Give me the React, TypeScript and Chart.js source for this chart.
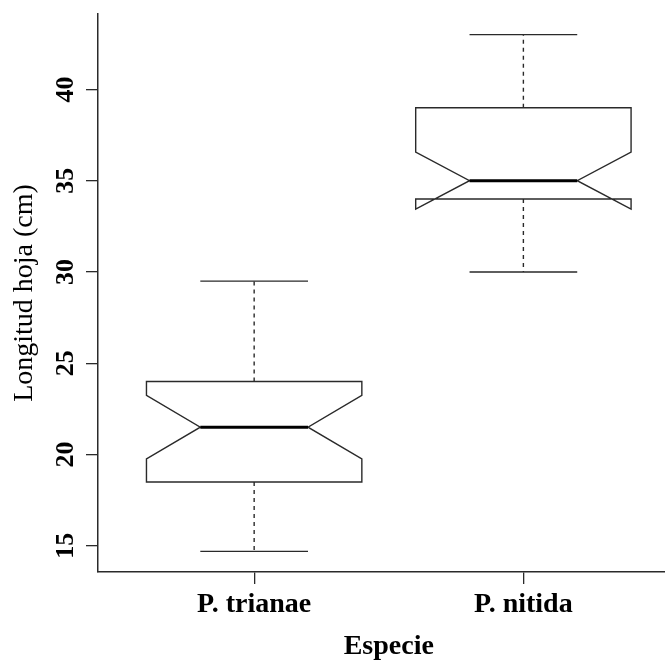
import React, { useEffect, useRef } from "react";
import { Chart, registerables } from "chart.js";

Chart.register(...registerables);

// ---- data ----
const categories = ["P. trianae", "P. nitida"];
const whiskerLow = [14.7, 30];
const q1 = [18.5, 34];
const median = [21.5, 35];
const q3 = [24, 39];
const whiskerHigh = [29.5, 43];
const notchLow = [19.76, 33.45];
const notchHigh = [23.24, 36.57];
const yTicks = [15, 20, 25, 30, 35, 40];
const yTitle = "Longitud hoja (cm)";
const xTitle = "Especie";

const FONT = '"Liberation Serif", "Times New Roman", "DejaVu Serif", serif';
const LINE = "#2a2a2a";

const boxPlugin = {
  id: "notchedBoxes",
  afterDatasetsDraw(chart: any) {
    const { ctx } = chart;
    const x = chart.scales.x;
    const y = chart.scales.y;
    const boxHalf = 0.4;
    const capHalf = 0.2;
    categories.forEach((_, i) => {
      const c = i + 1;
      const xc = x.getPixelForValue(c);
      const xl = x.getPixelForValue(c - boxHalf);
      const xr = x.getPixelForValue(c + boxHalf);
      const xnl = x.getPixelForValue(c - boxHalf / 2);
      const xnr = x.getPixelForValue(c + boxHalf / 2);
      const xcl = x.getPixelForValue(c - capHalf);
      const xcr = x.getPixelForValue(c + capHalf);
      const yLo = y.getPixelForValue(whiskerLow[i]);
      const yHi = y.getPixelForValue(whiskerHigh[i]);
      const yQ1 = y.getPixelForValue(q1[i]);
      const yQ3 = y.getPixelForValue(q3[i]);
      const yMed = y.getPixelForValue(median[i]);
      const yNL = y.getPixelForValue(notchLow[i]);
      const yNH = y.getPixelForValue(notchHigh[i]);

      ctx.save();
      ctx.strokeStyle = LINE;
      ctx.lineWidth = 1.4;
      // dashed whiskers
      ctx.setLineDash([4, 4]);
      ctx.beginPath();
      ctx.moveTo(xc, yQ3);
      ctx.lineTo(xc, yHi);
      ctx.moveTo(xc, yQ1);
      ctx.lineTo(xc, yLo);
      ctx.stroke();
      ctx.setLineDash([]);
      // staples
      ctx.beginPath();
      ctx.moveTo(xcl, yHi);
      ctx.lineTo(xcr, yHi);
      ctx.moveTo(xcl, yLo);
      ctx.lineTo(xcr, yLo);
      ctx.stroke();
      // notched box
      ctx.beginPath();
      ctx.moveTo(xl, yQ1);
      ctx.lineTo(xl, yNL);
      ctx.lineTo(xnl, yMed);
      ctx.lineTo(xl, yNH);
      ctx.lineTo(xl, yQ3);
      ctx.lineTo(xr, yQ3);
      ctx.lineTo(xr, yNH);
      ctx.lineTo(xnr, yMed);
      ctx.lineTo(xr, yNL);
      ctx.lineTo(xr, yQ1);
      ctx.closePath();
      ctx.stroke();
      // median
      ctx.strokeStyle = "#000";
      ctx.lineWidth = 3;
      ctx.beginPath();
      ctx.moveTo(xnl, yMed);
      ctx.lineTo(xnr, yMed);
      ctx.stroke();
      ctx.restore();
    });
  },
  afterDraw(chart: any) {
    const { ctx, chartArea } = chart;
    const x = chart.scales.x;
    const y = chart.scales.y;
    ctx.save();
    ctx.fillStyle = "#000";
    // x tick labels
    ctx.font = `bold 28px ${FONT}`;
    ctx.textAlign = "center";
    ctx.textBaseline = "alphabetic";
    categories.forEach((lab, i) => {
      ctx.fillText(lab, x.getPixelForValue(i + 1), chartArea.bottom + 40);
    });
    // x title
    ctx.font = `bold 28px ${FONT}`;
    const midX = x.getPixelForValue((1 + categories.length) / 2);
    ctx.fillText(xTitle, midX, chartArea.bottom + 82);
    // y tick labels (rotated)
    ctx.font = `bold 26px ${FONT}`;
    yTicks.forEach((v) => {
      const py = y.getPixelForValue(v);
      ctx.save();
      ctx.translate(chartArea.left - 25, py);
      ctx.rotate(-Math.PI / 2);
      ctx.fillText(String(v), 0, 0);
      ctx.restore();
    });
    // y title
    ctx.font = `28px ${FONT}`;
    ctx.save();
    ctx.translate(32, (chartArea.top + chartArea.bottom) / 2);
    ctx.rotate(-Math.PI / 2);
    ctx.fillText(yTitle, 0, 0);
    ctx.restore();
    ctx.restore();
  },
};

export default function App() {
  const ref = useRef<HTMLCanvasElement | null>(null);
  useEffect(() => {
    if (!ref.current) return;
    const chart = new Chart(ref.current, {
      type: "scatter",
      data: { datasets: [] },
      options: {
        animation: false,
        responsive: false,
        devicePixelRatio: 1,
        layout: { padding: { top: 14, right: 0, left: 0, bottom: 0 } },
        plugins: { legend: { display: false }, tooltip: { enabled: false } },
        scales: {
          x: {
            type: "linear",
            position: "bottom",
            min: 0.42,
            max: 2.526,
            afterBuildTicks: (s: any) => {
              s.ticks = categories.map((_, i) => ({ value: i + 1 }));
            },
            afterFit: (s: any) => {
              s.height = 90;
            },
            ticks: { display: false },
            grid: {
              drawOnChartArea: false,
              drawTicks: true,
              tickLength: 12,
              color: LINE,
              lineWidth: 1.3,
            },
            border: { display: true, color: LINE, width: 1.5 },
          },
          y: {
            type: "linear",
            position: "left",
            min: 13.568,
            max: 44.132,
            afterBuildTicks: (s: any) => {
              s.ticks = yTicks.map((v) => ({ value: v }));
            },
            afterFit: (s: any) => {
              s.width = 98;
            },
            ticks: { display: false },
            grid: {
              drawOnChartArea: false,
              drawTicks: true,
              tickLength: 12,
              color: LINE,
              lineWidth: 1.3,
            },
            border: { display: true, color: LINE, width: 1.5 },
          },
        },
      },
      plugins: [boxPlugin],
    } as any);
    return () => chart.destroy();
  }, []);
  return (
    <div style={{ position: "absolute", left: 0, top: 0, width: 665, height: 662, background: "#fff" }}>
      <canvas ref={ref} width={665} height={662} style={{ display: "block" }} />
    </div>
  );
}
